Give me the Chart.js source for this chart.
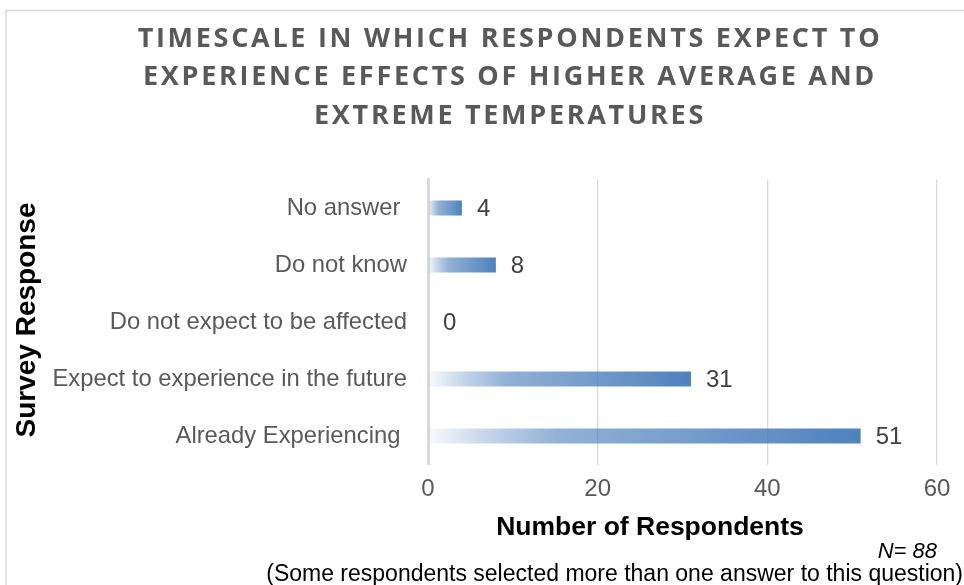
<!DOCTYPE html>
<html lang="en">
<head>
<meta charset="UTF-8" />
<title>Timescale of expected temperature effects</title>
<script src="https://cdn.jsdelivr.net/npm/chart.js@4.4.1/dist/chart.umd.min.js"></script>
<style>
  html,body{margin:0;padding:0;background:#fff;}
  #wrap{width:964px;height:585px;position:relative;overflow:hidden;}
</style>
</head>
<body>
<div id="wrap"><canvas id="chart"></canvas></div>
<script>
// data
const CATEGORIES = ['No answer ', 'Do not know', 'Do not expect to be affected',
                    'Expect to experience in the future', 'Already Experiencing '];
const RESPONDENTS = [4, 8, 0, 31, 51];
const X_TICKS = [0, 20, 40, 60];

// texts
const TITLE_LINES = ['TIMESCALE IN WHICH RESPONDENTS EXPECT TO',
                     'EXPERIENCE EFFECTS OF HIGHER AVERAGE AND',
                     'EXTREME TEMPERATURES'];
const X_TITLE = 'Number of Respondents';
const Y_TITLE = 'Survey Response';
const SAMPLE_NOTE = 'N= 88';
const FOOTNOTE = '(Some respondents selected more than one answer to this question)';

const SANS = '"Liberation Sans", Arial, sans-serif';
const BLUE = 'rgb(79,129,189)';
const GRID = '#d9d9d9';

// left-to-right fade like the Excel gradient fill
function barFill(ctx){
  const chart = ctx.chart, xs = chart.scales.x;
  if(!xs || !chart.chartArea) return BLUE;
  const x0 = xs.getPixelForValue(0), x1 = xs.getPixelForValue(ctx.raw);
  if(x1 - x0 < 1) return BLUE;
  const g = chart.ctx.createLinearGradient(x0, 0, x1, 0);
  g.addColorStop(0,    'rgba(79,129,189,0.03)');
  g.addColorStop(0.12, 'rgba(79,129,189,0.30)');
  g.addColorStop(0.3,  'rgba(79,129,189,0.62)');
  g.addColorStop(0.6,  'rgba(79,129,189,0.78)');
  g.addColorStop(1,    'rgba(79,129,189,1)');
  return g;
}

const extras = {
  id:'extras',
  beforeDraw(chart){
    const c = chart.ctx;
    c.save();
    c.strokeStyle = GRID; c.lineWidth = 1.5;
    c.strokeRect(6, 10.5, 1100, 1000);
    c.restore();
  },
  afterDatasetsDraw(chart){
    const c = chart.ctx;
    const meta = chart.getDatasetMeta(0);
    c.save();
    c.font = '24px ' + SANS;
    c.fillStyle = '#404040';
    c.textAlign = 'left'; c.textBaseline = 'middle';
    meta.data.forEach((bar, i) => c.fillText(String(RESPONDENTS[i]), bar.x + 15, bar.y + 1));
    c.restore();
  },
  afterDraw(chart){
    const c = chart.ctx;
    c.save();
    // title
    c.font = 'bold 27px "Open Sans", sans-serif';
    c.fillStyle = '#595959';
    c.textAlign = 'center'; c.textBaseline = 'middle';
    c.letterSpacing = '2.7px';
    TITLE_LINES.forEach((t, i) => c.fillText(t, 510, 39 + i * 38.7));
    c.letterSpacing = '0px';

    // axis titles
    c.fillStyle = '#000';
    c.font = 'bold 26.5px ' + SANS;
    c.fillText(X_TITLE, 650, 528);
    c.save();
    c.font = 'bold 28px ' + SANS;
    c.translate(27, 320);
    c.rotate(-Math.PI / 2);
    c.fillText(Y_TITLE, 0, 0);
    c.restore();

    // notes
    c.font = 'italic 22px ' + SANS;
    c.textAlign = 'right';
    c.fillText(SAMPLE_NOTE, 937, 552);
    c.font = '23px ' + SANS;
    c.fillText(FOOTNOTE, 963, 575);
    c.restore();
  }
};

new Chart(document.getElementById('chart'), {
  type:'bar',
  data:{
    labels:CATEGORIES,
    datasets:[{
      data:RESPONDENTS,
      backgroundColor:barFill,
      borderWidth:0,
      barPercentage:0.26,
      categoryPercentage:1
    }]
  },
  options:{
    indexAxis:'y',
    responsive:true,
    maintainAspectRatio:false,
    animation:false,
    devicePixelRatio:1,
    layout:{padding:{top:179.5, right:27, bottom:0, left:0}},
    plugins:{legend:{display:false}, tooltip:{enabled:false}, title:{display:false}},
    scales:{
      x:{
        min:0, max:60,
        afterBuildTicks:s => { s.ticks = X_TICKS.map(v => ({value:v})); },
        afterFit:s => { s.height = 120.5; },
        grid:{color:GRID, lineWidth:1.3, drawTicks:false},
        border:{display:false},
        ticks:{color:'#595959', font:{family:SANS, size:24}, padding:10}
      },
      y:{
        afterFit:s => { s.width = 428; },
        grid:{display:false, drawTicks:false},
        border:{display:true, color:GRID, width:3},
        ticks:{color:'#595959', font:{family:SANS, size:23.8}, padding:21}
      }
    }
  },
  plugins:[extras]
});
</script>
</body>
</html>
